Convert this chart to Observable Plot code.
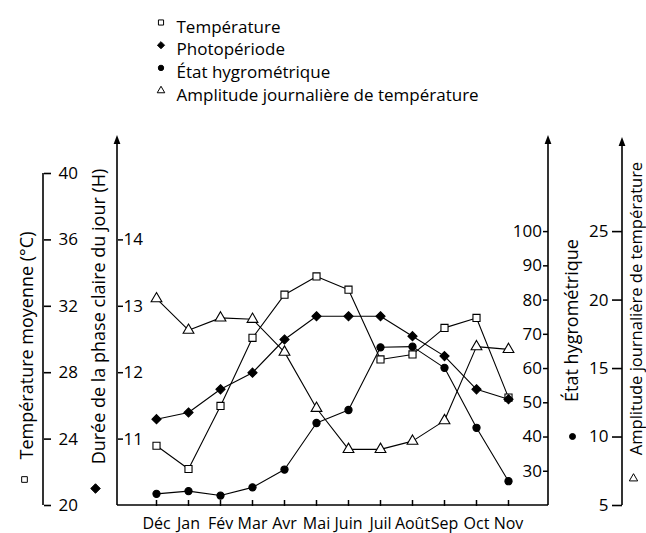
<!DOCTYPE html>
<html>
<head>
<meta charset="utf-8">
<script src="https://cdn.jsdelivr.net/npm/d3@7"></script>
<script src="https://cdn.jsdelivr.net/npm/@observablehq/plot@0.6"></script>
<style>
  body { margin: 0; background: #fff; }
  #chart svg { display: block; }
</style>
</head>
<body>
<div id="chart"></div>
<script>
// Monthly climate series
const months = ["Déc", "Jan", "Fév", "Mar", "Avr", "Mai", "Juin", "Juil", "Août", "Sep", "Oct", "Nov"];
const temperature = [23.6, 22.2, 26.0, 30.1, 32.7, 33.8, 33.0, 28.8, 29.1, 30.7, 31.3, 26.5]; // °C
const photoperiod = [11.3, 11.4, 11.75, 12.0, 12.5, 12.85, 12.85, 12.85, 12.55, 12.25, 11.75, 11.6]; // h
const humidity = [23.4, 24.2, 22.9, 25.3, 30.5, 44.1, 47.9, 66.2, 66.4, 60.2, 42.7, 27.1]; // %
const amplitude = [20.1, 17.8, 18.7, 18.6, 16.2, 12.1, 9.1, 9.1, 9.7, 11.2, 16.6, 16.4]; // °C

// Axis ticks
const tempTicks = [20, 24, 28, 32, 36, 40];
const photoTicks = [11, 12, 13, 14];
const humidityTicks = [30, 40, 50, 60, 70, 80, 90, 100];
const amplitudeTicks = [5, 10, 15, 20, 25];

// Legend and axis titles
const seriesLabels = ["Température", "Photopériode", "État hygrométrique", "Amplitude journalière de température"];
const axisTitles = ["Température moyenne (°C)", "Durée de la phase claire du jour (H)", "État hygrométrique", "Amplitude journalière de température"];

// ---- layout ----
const W = 646, H = 533;
const M = {top: 135, right: 98, bottom: 28, left: 117};
const FONT = '"Open Sans", "DejaVu Sans", sans-serif';

// Everything is plotted on the °C scale of the left axis; other axes convert into it.
const fromPhoto = h => 20 + 4 * (h - 10);
const toPhoto = t => 10 + (t - 20) / 4;
const HUM_K = 16.5 / 80;
const fromHum = v => 20 + (v - 20) * HUM_K;
const toHum = t => 20 + (t - 20) / HUM_K;
const fromAmp = a => fromHum(4 * a);
const toAmp = t => toHum(t) / 4;

const rows = months.map((month, i) => ({
  month,
  temp: temperature[i],
  photo: fromPhoto(photoperiod[i]),
  hum: fromHum(humidity[i]),
  amp: fromAmp(amplitude[i])
}));

const series = [
  {key: "temp", symbol: "square", fill: "white", r: 4, lr: 2.9},
  {key: "photo", symbol: "diamond2", fill: "black", r: 4.1, lr: 3.2},
  {key: "hum", symbol: "circle", fill: "black", r: 3.6, lr: 2.7},
  {key: "amp", symbol: "triangle", fill: "white", r: 4, lr: 2.8}
];

// place a frame-anchored mark at a page position
const at = (px, py) => ({x: null, y: null, frameAnchor: "top-left", dx: px - M.left, dy: py - M.top});

// axis spines with arrowheads
function spines(index, scales) {
  const g = d3.create("svg:g").attr("stroke", "black").attr("stroke-width", 1.6).attr("fill", "none");
  const yb = scales.y(20), xl = M.left, xr = W - M.right;
  const arrowed = (x, y1, tip) => {
    g.append("path").attr("d", `M${x},${y1}V${tip + 6}`);
    g.append("path").attr("d", `M${x},${tip}L${x - 3.4},${tip + 9}L${x + 3.4},${tip + 9}Z`)
      .attr("fill", "black").attr("stroke", "none");
  };
  g.append("path").attr("d", `M${xl},${yb}H${xr}`);
  arrowed(xl, yb, M.top);
  arrowed(xr, yb, M.top);
  arrowed(622, scales.y(fromAmp(5)), M.top + 2);
  g.append("path").attr("d", `M43,${scales.y(40)}V${yb}`);
  return g.node();
}

const marks = [spines];

// month ticks pointing up from the baseline, labels below
marks.push(Plot.axisX({anchor: "top", dy: H - M.top - M.bottom, tickSize: 6, strokeWidth: 1.5, tickFormat: () => "", label: null}));
marks.push(Plot.axisX({anchor: "bottom", tickSize: 0, tickPadding: 12, fontSize: 16, label: null}));

// left temperature axis
marks.push(Plot.axisY({anchor: "right", dx: 43 - (W - M.right), ticks: tempTicks, tickSize: 7, tickPadding: 8,
  strokeWidth: 1.6, fontSize: 17, tickFormat: d => d, label: null}));
// photoperiod axis
marks.push(Plot.axisY({anchor: "right", dx: M.left - (W - M.right), ticks: photoTicks.map(fromPhoto), tickSize: 5, tickPadding: 1,
  strokeWidth: 1.5, fontSize: 17, tickFormat: d => Math.round(toPhoto(d)), label: null}));
// humidity axis
marks.push(Plot.axisY({anchor: "left", dx: (W - M.right) - M.left, ticks: humidityTicks.map(fromHum), tickSize: 5, tickPadding: 1.5,
  strokeWidth: 1.5, fontSize: 17, tickFormat: d => Math.round(toHum(d)), label: null}));
// amplitude axis
marks.push(Plot.axisY({anchor: "left", dx: 622 - M.left, ticks: amplitudeTicks.map(fromAmp), tickSize: 10, tickPadding: 4,
  strokeWidth: 1.6, fontSize: 17, tickFormat: d => Math.round(toAmp(d)), label: null}));

// series lines, then markers on top
for (const s of series) {
  marks.push(Plot.line(rows, {x: "month", y: s.key, stroke: "black", strokeWidth: 1.1}));
}
for (const s of series) {
  marks.push(Plot.dot(rows, {x: "month", y: s.key, symbol: s.symbol, r: s.r, fill: s.fill, stroke: "black", strokeWidth: 1.1}));
}

// legend
seriesLabels.forEach((label, i) => {
  const s = series[i];
  const cy = 20 + i * 22.7;
  marks.push(Plot.dot([label], {...at(160.5, cy + 2), symbol: s.symbol, r: s.lr, fill: s.fill, stroke: "black", strokeWidth: 1}));
  marks.push(Plot.text([label], {...at(176, cy), text: d => d, textAnchor: "start", fontSize: 17, fill: "black"}));
});

// rotated axis titles with their series symbol
const titlePos = [
  {x: 20, y: 345, sx: 24, sy: 479, size: 18},
  {x: 92, y: 316, sx: 95, sy: 488, size: 18},
  {x: 565, y: 320, sx: 572, sy: 436, size: 18},
  {x: 630, y: 308, sx: 633, sy: 478, size: 16.5}
];
axisTitles.forEach((title, i) => {
  const p = titlePos[i], s = series[i];
  marks.push(Plot.text([title], {...at(p.x, p.y), text: d => d, rotate: -90, textAnchor: "middle", fontSize: p.size, fill: "black"}));
  marks.push(Plot.dot([title], {...at(p.sx, p.sy), symbol: s.symbol, r: i === 1 ? 4.3 : s.lr + 0.3, fill: s.fill, stroke: "black", strokeWidth: 1}));
});

const chart = Plot.plot({
  width: W,
  height: H,
  marginTop: M.top,
  marginRight: M.right,
  marginBottom: M.bottom,
  marginLeft: M.left,
  style: {fontFamily: FONT, fontSize: "17px", color: "black", background: "white", overflow: "visible"},
  x: {type: "point", domain: months, range: [151, 513], padding: 0, axis: null},
  y: {domain: [20, 40], range: [505, 173], axis: null},
  marks
});

document.getElementById("chart").append(chart);
</script>
</body>
</html>
